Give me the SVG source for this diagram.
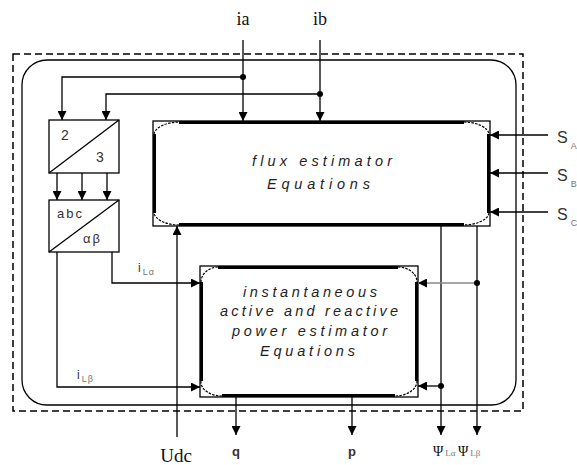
<svg xmlns="http://www.w3.org/2000/svg" width="577" height="465" viewBox="0 0 577 465">
<style>
.ln{fill:none;stroke:#000;stroke-width:1.3}
.thk{fill:none;stroke:#000;stroke-width:3}
.arc{fill:none;stroke:#000;stroke-width:1.2;stroke-dasharray:2.5 1.2}
.sans{font-family:"Liberation Sans",Arial,sans-serif;fill:#333}
.serif{font-family:"Liberation Serif","Times New Roman",serif;fill:#111}
.it{font-family:"Liberation Sans",Arial,sans-serif;font-style:italic;font-size:14.5px;fill:#1e1e1e}
.sub{font-size:9px;fill:#777}
</style>
<defs>
<marker id="arr" viewBox="0 0 10 10" refX="10" refY="5" markerWidth="9" markerHeight="9" markerUnits="userSpaceOnUse" orient="auto">
<path d="M0,0 L10,5 L0,10 z" fill="#000"/>
</marker>
</defs>
<rect id="boundary" x="13" y="54" width="510" height="357" fill="none" stroke="#000" stroke-width="1.5" stroke-dasharray="7 4"/>
<rect id="outer" x="22" y="60" width="494" height="345" rx="25" ry="25" class="ln" stroke-width="1.2"/>
<g id="conv23">
<rect x="49" y="120" width="70" height="53" class="ln"/>
<line x1="49" y1="173" x2="119" y2="120" class="ln"/>
<text x="65" y="140" class="sans" font-size="14" text-anchor="middle">2</text>
<text x="100" y="162" class="sans" font-size="14" text-anchor="middle">3</text>
</g>
<g id="convabc">
<rect x="49" y="200" width="70" height="52" class="ln"/>
<line x1="49" y1="252" x2="119" y2="200" class="ln"/>
<text x="57" y="218" class="sans" font-size="13" letter-spacing="2">abc</text>
<text x="83" y="243" class="sans" font-size="13" letter-spacing="2">αβ</text>
</g>
<g id="flux">
<rect x="153" y="121" width="337" height="105" fill="#fff" class="ln" stroke-width="1.2"/>
<path d="M179,122.5 H464 M488.5,134 V213 M464,224.5 H179 M154.5,213 V134" class="thk"/>
<path d="M154,134 A26,13 0 0 1 179,122 M464,122 A26,13 0 0 1 489,134 M489,213 A26,13 0 0 1 464,225 M179,225 A26,13 0 0 1 154,213" class="arc"/>
<text x="252" y="166" class="it" textLength="140" lengthAdjust="spacing">flux estimator</text>
<text x="267" y="189" class="it" textLength="103" lengthAdjust="spacing">Equations</text>
</g>
<g id="power">
<rect x="200" y="266" width="218" height="131" fill="#fff" class="ln" stroke-width="1.2"/>
<path d="M218,267.5 H398 M416.5,282 V381 M395,395.5 H222 M201.5,381 V282" class="thk"/>
<path d="M201,282 A18,15 0 0 1 218,267 M398,267 A19,15 0 0 1 417,282 M417,381 A22,15 0 0 1 395,396 M222,396 A21,14 0 0 1 201,381" class="arc"/>
<text x="243" y="297" class="it" textLength="134" lengthAdjust="spacing">instantaneous</text>
<text x="220" y="316" class="it" textLength="178" lengthAdjust="spacing">active and reactive</text>
<text x="232" y="336" class="it" textLength="155" lengthAdjust="spacing">power estimator</text>
<text x="260" y="356" class="it" textLength="95" lengthAdjust="spacing">Equations</text>
</g>
<g id="connectors">
<line x1="243" y1="40" x2="243" y2="121" class="ln" marker-end="url(#arr)"/>
<line x1="320" y1="40" x2="320" y2="121" class="ln" marker-end="url(#arr)"/>
<polyline points="243,77 62,77 62,120" class="ln" marker-end="url(#arr)"/>
<polyline points="320,94 106,94 106,120" class="ln" marker-end="url(#arr)"/>
<circle cx="243" cy="77" r="3"/>
<circle cx="320" cy="94" r="3"/>
<line x1="57" y1="173" x2="57" y2="200" class="ln" marker-end="url(#arr)"/>
<line x1="82" y1="173" x2="82" y2="200" class="ln" marker-end="url(#arr)"/>
<line x1="107" y1="173" x2="107" y2="200" class="ln" marker-end="url(#arr)"/>
<polyline points="112,252 112,283 200,283" class="ln" marker-end="url(#arr)"/>
<polyline points="57,252 57,387 200,387" class="ln" marker-end="url(#arr)"/>
<line x1="177" y1="437" x2="177" y2="226" class="ln" marker-end="url(#arr)"/>
<line x1="548" y1="135" x2="490" y2="135" class="ln" marker-end="url(#arr)"/>
<line x1="548" y1="173" x2="490" y2="173" class="ln" marker-end="url(#arr)"/>
<line x1="548" y1="212" x2="490" y2="212" class="ln" marker-end="url(#arr)"/>
<line x1="441" y1="226" x2="441" y2="435" class="ln" marker-end="url(#arr)"/>
<line x1="477" y1="226" x2="477" y2="435" class="ln" marker-end="url(#arr)"/>
<line x1="477" y1="283" x2="418" y2="283" fill="none" stroke="#888" stroke-width="1.6" marker-end="url(#arr)"/>
<line x1="441" y1="386" x2="418" y2="386" class="ln" marker-end="url(#arr)"/>
<circle cx="477" cy="283" r="3"/>
<circle cx="441" cy="386" r="3"/>
<line x1="236" y1="397" x2="236" y2="435" class="ln" marker-end="url(#arr)"/>
<line x1="352" y1="397" x2="352" y2="435" class="ln" marker-end="url(#arr)"/>
</g>
<g id="labels">
<text x="243" y="25" class="serif" font-size="18" text-anchor="middle">ia</text>
<text x="320" y="25" class="serif" font-size="18" text-anchor="middle">ib</text>
<text x="138" y="272" class="sans" font-size="12" fill="#666">i<tspan class="sub" dy="3" dx="2" letter-spacing="1">Lα</tspan></text>
<text x="77" y="379" class="sans" font-size="12" fill="#666">i<tspan class="sub" dy="3" dx="2" letter-spacing="1">Lβ</tspan></text>
<text x="557" y="143" class="sans" font-size="16">S<tspan class="sub" dy="6" dx="3" font-size="10">A</tspan></text>
<text x="557" y="181" class="sans" font-size="16">S<tspan class="sub" dy="6" dx="3" font-size="10">B</tspan></text>
<text x="557" y="220" class="sans" font-size="16">S<tspan class="sub" dy="6" dx="3" font-size="10">C</tspan></text>
<text x="176" y="462" class="serif" font-size="19" text-anchor="middle">Udc</text>
<text x="236" y="456" class="sans" font-size="13" font-weight="bold" text-anchor="middle">q</text>
<text x="352" y="456" class="sans" font-size="13" font-weight="bold" text-anchor="middle">p</text>
<text x="433" y="456" class="serif" font-size="14" fill="#444">Ψ<tspan class="sub" dx="2">Lα</tspan></text>
<text x="458" y="456" class="serif" font-size="14" fill="#444">Ψ<tspan class="sub" dx="2">Lβ</tspan></text>
</g>
</svg>
